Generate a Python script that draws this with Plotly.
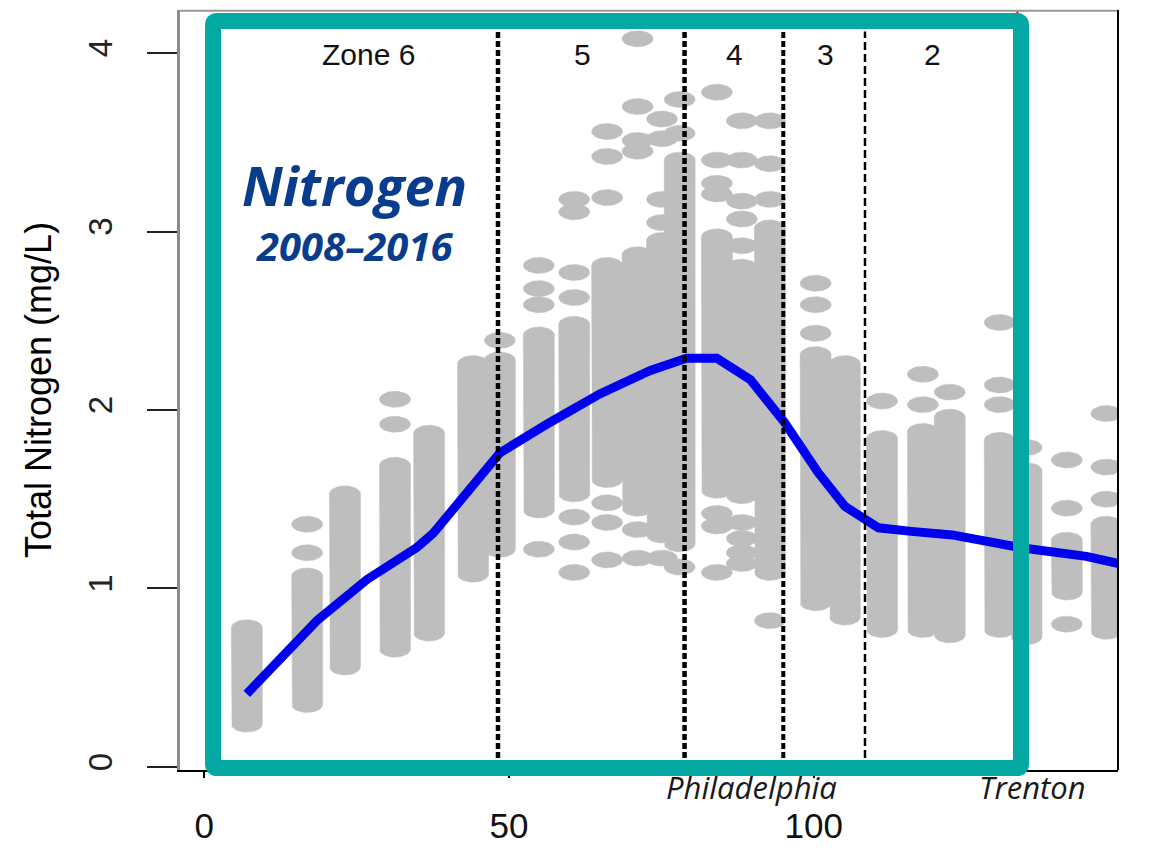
import numpy as np
import plotly.graph_objects as go

# ---------------- data ----------------
# sampling stations, river mile
station_rm = [7.0, 16.9, 23.1, 31.3, 36.9, 44.1, 48.5, 54.9, 60.7, 66.1, 71.1, 75.1, 78.0,
              84.1, 88.2, 92.8, 100.3, 105.1, 111.2, 117.9, 122.3, 130.5, 134.9, 141.5, 148.0]
# dense cluster of observations at each station (mg/L)
dense_low = [0.24, 0.35, 0.56, 0.66, 0.75, 1.08, 1.22, 1.44, 1.53, 1.61, 1.45, 1.30, 1.25,
             1.55, 1.52, 1.09, 0.92, 0.84, 0.77, 0.77, 0.74, 0.77, 0.73, 0.98, 0.76]
dense_high = [0.78, 1.07, 1.53, 1.69, 1.87, 2.26, 2.28, 2.42, 2.48, 2.81, 2.87, 2.95, 3.40,
              2.97, 2.80, 3.02, 2.31, 2.26, 1.84, 1.88, 1.96, 1.83, 1.66, 1.27, 1.36]
# isolated observations at each station (mg/L)
outliers = [
    [],
    [1.20, 1.36],
    [],
    [1.92, 2.06],
    [],
    [],
    [2.39],
    [2.81, 2.68, 2.59, 1.22],
    [3.18, 3.11, 2.77, 2.63, 1.40, 1.26, 1.09],
    [3.56, 3.42, 3.19, 1.48, 1.37, 1.16],
    [4.08, 3.70, 3.51, 3.45, 1.33, 1.17],
    [3.63, 3.52, 3.18, 3.05, 1.17],
    [3.74, 3.55, 1.12],
    [3.78, 3.40, 3.27, 3.21, 1.42, 1.35, 1.09],
    [3.62, 3.40, 3.17, 3.07, 2.92, 1.37, 1.28, 1.20, 1.14],
    [3.62, 3.38, 3.18, 0.82],
    [2.71, 2.59, 2.43],
    [],
    [2.05],
    [2.20, 2.03],
    [2.10],
    [2.49, 2.14, 2.03],
    [1.79],
    [1.72, 1.45, 0.80],
    [1.98, 1.68, 1.50],
]

# smoothed (LOESS) curve
loess_rm = [7.0, 18.5, 26.7, 34.9, 37.6, 43.1, 48.5, 56.7, 64.9, 73.1, 79.1, 84.1, 89.6,
            95.2, 100.7, 105.1, 110.6, 116.0, 122.7, 133.7, 144.7, 150.0]
loess_tn = [0.41, 0.82, 1.05, 1.23, 1.31, 1.53, 1.76, 1.93, 2.09, 2.22, 2.29, 2.29, 2.17,
            1.93, 1.65, 1.46, 1.34, 1.32, 1.30, 1.23, 1.18, 1.14]

# zone boundaries (river mile) and labels
zone_bounds = [48.2, 78.8, 95.0, 108.4]
zone_labels = ["Zone 6", "5", "4", "3", "2"]
zone_label_rm = [26.9, 62.0, 87.0, 102.0, 119.5]
trenton_rm = 133.4

x_ticks = [0, 50, 100, 150]
y_ticks = [0, 1, 2, 3, 4]

# ---------------- styling constants ----------------
X_RANGE = [-3.96, 149.9]
Y_RANGE = [-0.017, 4.241]
ML, MR, MT, MB = 180, 53, 10, 80
W, H = 1171, 850
PW, PH = W - ML - MR, H - MT - MB
px_per_x = PW / (X_RANGE[1] - X_RANGE[0])
px_per_y = PH / (Y_RANGE[1] - Y_RANGE[0])
DOT_A = 15.5 / px_per_x   # half width of a dot in data units
DOT_B = 8.0 / px_per_y    # half height of a dot in data units
GRAY = "#BEBEBE"
TEAL = "#04A9A4"
NAVY = "#083C8C"

t_top = np.linspace(0, np.pi, 22)
t_bot = np.linspace(np.pi, 2 * np.pi, 22)


def blob(xc, lo, hi):
    xs = list(xc + DOT_A * np.cos(t_top)) + list(xc + DOT_A * np.cos(t_bot))
    ys = list(hi + DOT_B * np.sin(t_top)) + list(lo + DOT_B * np.sin(t_bot))
    xs.append(xs[0])
    ys.append(ys[0])
    return xs, ys


gx, gy = [], []
for rm, lo, hi, outs in zip(station_rm, dense_low, dense_high, outliers):
    xs, ys = blob(rm, lo, hi)
    gx += xs + [None]
    gy += ys + [None]
    for v in outs:
        xs, ys = blob(rm, v, v)
        gx += xs + [None]
        gy += ys + [None]

fig = go.Figure()
fig.add_trace(go.Scatter(x=gx, y=gy, mode="lines", fill="toself", fillcolor=GRAY,
                         line=dict(color=GRAY, width=0.5), hoverinfo="skip",
                         showlegend=False))
fig.add_trace(go.Scatter(x=loess_rm, y=loess_tn, mode="lines",
                         line=dict(color="#0000F0", width=9), showlegend=False))

shapes = []
# Trenton marker line
shapes.append(dict(type="line", xref="x", yref="paper", x0=trenton_rm, x1=trenton_rm,
                   y0=0, y1=1, line=dict(color="red", width=2), layer="above"))
# zone boundaries
zone_widths = [4.5, 4.5, 4, 2.5]
zone_dash = ["6px,3px", "6px,3px", "6px,3px", "8px,4px"]
for xb, lw, ds in zip(zone_bounds, zone_widths, zone_dash):
    shapes.append(dict(type="line", xref="x", yref="y", x0=xb, x1=xb, y0=0.05, y1=4.12,
                       line=dict(color="black", width=lw, dash=ds), layer="above"))
# top and right frame
shapes.append(dict(type="line", xref="paper", yref="paper", x0=0, x1=1, y0=0.999, y1=0.999,
                   line=dict(color="#9a9a9a", width=2)))
shapes.append(dict(type="line", xref="paper", yref="paper", x0=1, x1=1, y0=0, y1=1.0,
                   line=dict(color="black", width=2)))


# teal rounded highlight box (pixel geometry converted to paper)
def pxx(p):
    return (p - ML) / PW


def pxy(p):
    return (H - MB - p) / PH


L_, R_, T_, B_, r = 213, 1021, 21, 768, 4
path = (f"M {pxx(L_ + r)},{pxy(T_)} L {pxx(R_ - r)},{pxy(T_)} Q {pxx(R_)},{pxy(T_)} {pxx(R_)},{pxy(T_ + r)} "
        f"L {pxx(R_)},{pxy(B_ - r)} Q {pxx(R_)},{pxy(B_)} {pxx(R_ - r)},{pxy(B_)} "
        f"L {pxx(L_ + r)},{pxy(B_)} Q {pxx(L_)},{pxy(B_)} {pxx(L_)},{pxy(B_ - r)} "
        f"L {pxx(L_)},{pxy(T_ + r)} Q {pxx(L_)},{pxy(T_)} {pxx(L_ + r)},{pxy(T_)} Z")
shapes.append(dict(type="path", xref="paper", yref="paper", path=path,
                   line=dict(color=TEAL, width=16), fillcolor="rgba(0,0,0,0)", layer="above"))

annotations = []
for lab, xr in zip(zone_labels, zone_label_rm):
    annotations.append(dict(x=xr, y=3.99, xref="x", yref="y", text=lab, showarrow=False,
                            font=dict(family="Liberation Sans, Arial", size=30, color="#111"),
                            xanchor="center", yanchor="middle"))
annotations.append(dict(x=24.7, y=3.26, xref="x", yref="y", text="<b><i>Nitrogen</i></b>",
                        showarrow=False, xanchor="center", yanchor="middle",
                        font=dict(family="Open Sans", size=54, color=NAVY)))
annotations.append(dict(x=24.7, y=2.92, xref="x", yref="y", text="<b><i>2008–2016</i></b>",
                        showarrow=False, xanchor="center", yanchor="middle",
                        font=dict(family="Open Sans", size=40, color=NAVY)))
annotations.append(dict(x=89.8, y=pxy(787), xref="x", yref="paper", text="<i>Philadelphia</i>",
                        showarrow=False, xanchor="center", yanchor="middle",
                        font=dict(family="Open Sans", size=31, color="#1a1a1a")))
annotations.append(dict(x=135.9, y=pxy(787), xref="x", yref="paper", text="<i>Trenton</i>",
                        showarrow=False, xanchor="center", yanchor="middle",
                        font=dict(family="Open Sans", size=31, color="#1a1a1a")))
annotations.append(dict(x=pxx(38), y=pxy(390), xref="paper", yref="paper",
                        text="Total Nitrogen (mg/L)", textangle=-90, showarrow=False,
                        xanchor="center", yanchor="middle",
                        font=dict(family="Liberation Sans, Arial", size=36, color="black")))

fig.update_layout(
    width=W, height=H,
    margin=dict(l=ML, r=MR, t=MT, b=MB, pad=0),
    paper_bgcolor="white", plot_bgcolor="white",
    showlegend=False,
    shapes=shapes, annotations=annotations,
    xaxis=dict(range=X_RANGE, tickvals=x_ticks, ticktext=[str(v) for v in x_ticks],
               ticks="outside", ticklen=6, tickwidth=2, tickcolor="black",
               showline=True, linecolor="black", linewidth=2,
               showgrid=False, zeroline=False, automargin=False,
               tickfont=dict(family="Liberation Sans, Arial", size=35, color="#111"),
               ticklabelstandoff=18),
    yaxis=dict(range=Y_RANGE, tickvals=y_ticks, ticktext=[str(v) for v in y_ticks],
               ticks="outside", ticklen=30, tickwidth=2, tickcolor="#222",
               showline=True, linecolor="#8c8c8c", linewidth=3,
               showgrid=False, zeroline=False, tickangle=-90, automargin=False,
               tickfont=dict(family="Liberation Sans, Arial", size=33, color="#222"),
               ticklabelstandoff=22),
)

fig.write_html("out.html")
